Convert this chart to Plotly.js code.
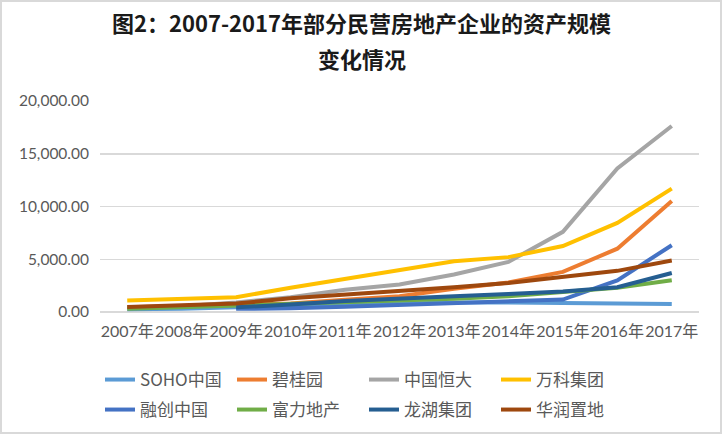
<!DOCTYPE html>
<html>
<head>
<meta charset="utf-8">
<script src="https://cdn.plot.ly/plotly-3.0.1.min.js"></script>
<style>
html,body{margin:0;padding:0;background:#fff;}
#wrap{position:relative;width:722px;height:434px;}
#chart{width:722px;height:434px;}
#frame{position:absolute;left:0;top:0;width:722px;height:434px;box-sizing:border-box;border:2px solid #D9D9D9;pointer-events:none;}
</style>
</head>
<body>
<div id="wrap"><div id="chart"></div><div id="frame"></div></div>
<script>
// Data (unit: 亿元)
const years = ["2007年","2008年","2009年","2010年","2011年","2012年","2013年","2014年","2015年","2016年","2017年"];
const titleLine1 = "图2：2007-2017年部分民营房地产企业的资产规模";
const titleLine2 = "变化情况";
const seriesNames = ["SOHO中国","碧桂园","中国恒大","万科集团","融创中国","富力地产","龙湖集团","华润置地"];
const soho      = [250, 300, 450, 550, 650, 800, 900, 900, 850, 800, 760];
const biguiyuan = [450, 550, 650, 800, 1150, 1500, 2200, 2800, 3800, 6000, 10530];
const hengda    = [400, 550, 900, 1400, 2100, 2600, 3550, 4750, 7600, 13600, 17630];
const vanke     = [1100, 1250, 1400, 2300, 3150, 3950, 4800, 5200, 6250, 8450, 11700];
const rongchuang= [null, null, 300, 350, 500, 650, 800, 1000, 1180, 3000, 6330];
const fuli      = [300, 450, 600, 800, 900, 1050, 1250, 1500, 1900, 2300, 3000];
const longhu    = [null, null, 450, 700, 1050, 1300, 1500, 1700, 1950, 2350, 3700];
const huarun    = [480, 650, 800, 1300, 1650, 1950, 2350, 2750, 3320, 3900, 4880];

const allSeries = [soho, biguiyuan, hengda, vanke, rongchuang, fuli, longhu, huarun];
const colors = ["#5B9BD5","#ED7D31","#A5A5A5","#FFC000","#4472C4","#70AD47","#255E91","#9E480E"];

const traces = allSeries.map((vals, i) => ({
  type: "scatter",
  mode: "lines",
  name: seriesNames[i],
  x: years,
  y: vals,
  connectgaps: false,
  line: {color: colors[i], width: 4},
  legend: i < 4 ? "legend" : "legend2",
  hoverinfo: "x+y+name"
}));

const cjk = "'Noto Sans CJK SC', Lato, sans-serif";
const tickFam = "Lato, 'Noto Sans CJK SC', sans-serif";
const legendBase = {
  orientation: "h",
  xref: "paper", x: 0, xanchor: "left",
  yref: "container", yanchor: "middle",
  entrywidth: 87, entrywidthmode: "pixels",
  font: {family: cjk, size: 17, color: "#595959"},
  bgcolor: "rgba(0,0,0,0)",
  itemclick: false
};

// plot area spans y = 101..312 px; paper y for a pixel row
const py = (pix) => (312 - pix) / 211;

const layout = {
  width: 722, height: 434,
  margin: {l: 100, r: 23, t: 101, b: 122},
  paper_bgcolor: "#fff", plot_bgcolor: "#fff",
  showlegend: true,
  annotations: [
    {text: titleLine1, xref: "paper", yref: "paper", x: 0.437, y: py(22), xanchor: "center", yanchor: "middle",
     showarrow: false, font: {family: cjk, size: 22, color: "#1a1a1a", weight: "bold"}},
    {text: titleLine2, xref: "paper", yref: "paper", x: 0.437, y: py(58), xanchor: "center", yanchor: "middle",
     showarrow: false, font: {family: cjk, size: 22, color: "#1a1a1a", weight: "bold"}}
  ],
  xaxis: {
    type: "category",
    range: [-0.5, 10.5],
    showgrid: false,
    showline: false,
    zeroline: false,
    ticks: "",
    tickangle: 0,
    tickfont: {family: tickFam, size: 16, color: "#595959"},
    ticklabelstandoff: 8,
    fixedrange: true
  },
  yaxis: {
    range: [0, 20000],
    dtick: 5000,
    tickformat: ",.2f",
    showgrid: true,
    gridcolor: "#D9D9D9",
    gridwidth: 1.5,
    zeroline: true,
    zerolinecolor: "#D9D9D9",
    zerolinewidth: 1.5,
    showline: false,
    ticks: "",
    tickfont: {family: tickFam, size: 15.5, color: "#595959"},
    ticklabelstandoff: 10,
    fixedrange: true
  },
  legend: Object.assign({}, legendBase, {y: 1 - 380/434}),
  legend2: Object.assign({}, legendBase, {y: 1 - 410/434})
};

Plotly.newPlot("chart", traces, layout, {displayModeBar: false, staticPlot: true});
</script>
</body>
</html>
